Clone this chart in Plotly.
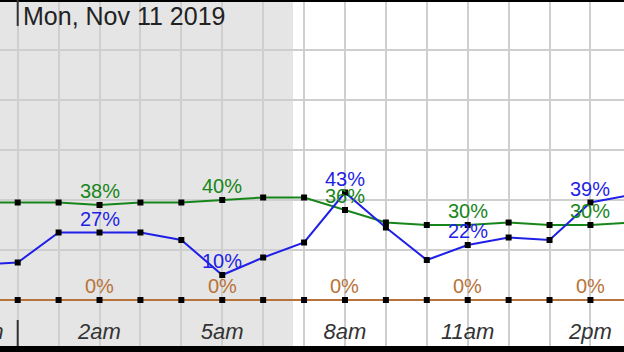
import plotly.graph_objects as go

# ---- data ----
hours = list(range(-1, 16))  # hour of day (Mon, Nov 11 2019), -1 = 11pm Sunday
sky_cover = [14, 15, 27, 27, 27, 24, 10, 17, 23, 43, 29, 16, 22, 25, 24, 39, 42]
humidity = [39, 39, 39, 38, 39, 39, 40, 41, 41, 36, 31, 30, 30, 31, 30, 30, 31]
precip = [0] * 17
label_hours = [2, 5, 8, 11, 14]
tick_hours = [-1, 2, 5, 8, 11, 14]
tick_labels = ["11pm", "2am", "5am", "8am", "11am", "2pm"]
date_label = "Mon, Nov 11 2019"
sunrise_hour = 6.73

# ---- style ----
BLUE = "#1f1fe6"
GREEN = "#17861a"
BROWN = "#b8733a"
FONT = "Liberation Sans, Arial, sans-serif"
PX_PER_PCT = 2.5
Y_TOP = 120
Y_BOTTOM = Y_TOP - 352 / PX_PER_PCT
TICK_LABEL_Y = (300 - 333) / PX_PER_PCT  # value level of tick-label row

fig = go.Figure()

for vals, col in [(precip, BROWN), (humidity, GREEN), (sky_cover, BLUE)]:
    fig.add_trace(go.Scatter(
        x=hours, y=vals, mode="lines+markers",
        line=dict(color=col, width=2),
        marker=dict(symbol="square", size=6, color="black"),
        hoverinfo="skip", showlegend=False))

# hour tick labels drawn inside the plot
fig.add_trace(go.Scatter(
    x=tick_hours, y=[TICK_LABEL_Y] * len(tick_hours), mode="text",
    text=[f"<i>{t}</i>" for t in tick_labels], textposition="middle center",
    textfont=dict(family=FONT, size=22, color="#333333"),
    hoverinfo="skip", showlegend=False, cliponaxis=True))

annotations = []
for vals, col in [(precip, BROWN), (humidity, GREEN), (sky_cover, BLUE)]:
    for h in label_hours:
        v = vals[hours.index(h)]
        annotations.append(dict(
            x=h, y=v, xref="x", yref="y", text=f"{v}%", showarrow=False,
            yshift=14, font=dict(family=FONT, size=20, color=col)))

annotations.append(dict(
    x=0, y=1 - 16 / 352, xref="x", yref="paper", text=date_label,
    showarrow=False, xanchor="left", yanchor="middle", xshift=3,
    font=dict(family=FONT, size=25, color="#222222")))

shapes = [
    # night shading
    dict(type="rect", xref="x", yref="paper", x0=-2, x1=sunrise_hour, y0=0, y1=1,
         fillcolor="#e5e5e5", line=dict(width=0), layer="below"),
    # top border
    dict(type="rect", xref="paper", yref="paper", x0=0, x1=1, y0=1 - 2 / 352, y1=1,
         fillcolor="black", line=dict(width=0)),
    # bottom border
    dict(type="rect", xref="paper", yref="paper", x0=0, x1=1, y0=0, y1=6 / 352,
         fillcolor="black", line=dict(width=0)),
    # midnight separators
    dict(type="line", xref="x", yref="paper", x0=0, x1=0, y0=1, y1=1 - 26 / 352,
         line=dict(color="#333333", width=2)),
    dict(type="line", xref="x", yref="paper", x0=0, x1=0, y0=6 / 352, y1=(352 - 320) / 352,
         line=dict(color="#333333", width=2)),
]

px_per_hour = 40.91
x0_px = 17.7
fig.update_layout(
    width=624, height=352, margin=dict(l=0, r=0, t=0, b=0),
    paper_bgcolor="white", plot_bgcolor="white",
    xaxis=dict(range=[-x0_px / px_per_hour, (624 - x0_px) / px_per_hour],
               tickvals=hours, showticklabels=False, ticks="",
               showgrid=True, gridcolor="#cfcfcf", gridwidth=2, zeroline=False,
               showline=False, fixedrange=True),
    yaxis=dict(range=[Y_BOTTOM, Y_TOP], tickvals=[0, 20, 40, 60, 80, 100],
               showticklabels=False, ticks="", showgrid=True, gridcolor="#cfcfcf",
               gridwidth=2, zeroline=False, showline=False, fixedrange=True),
    annotations=annotations, shapes=shapes,
)

fig.write_html("out.html", config={"displayModeBar": False})
